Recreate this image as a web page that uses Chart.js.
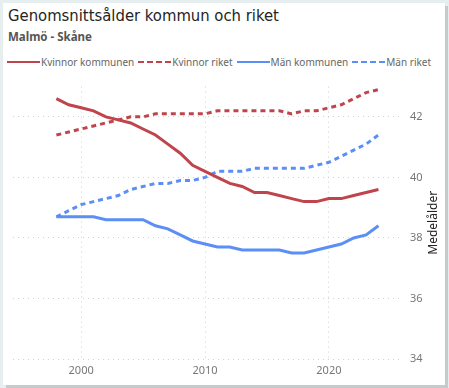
<!DOCTYPE html>
<html>
<head>
<meta charset="utf-8">
<script src="https://cdn.jsdelivr.net/npm/chart.js@4/dist/chart.umd.min.js"></script>
<style>
  html, body { margin: 0; padding: 0; }
  body { width: 449px; height: 388px; background: #e7eef0; position: relative; overflow: hidden; font-family: 'Noto Sans', 'Open Sans', sans-serif; }
  .card { position: absolute; left: 3px; top: 3px; width: 442px; height: 382px; background: #fff; box-shadow: 3px 3px 0 #c5cacb; }
  .title { position: absolute; left: 5px; top: 3px; font-family: 'DejaVu Sans Condensed', 'Noto Sans', sans-serif; font-size: 16.5px; color: #252423; white-space: nowrap; }
  .sub { position: absolute; left: 5px; top: 26px; font-size: 11.5px; font-weight: bold; color: #555; }
  .legend { position: absolute; left: 4px; top: 52px; display: flex; align-items: center; font-size: 10px; color: #666; white-space: nowrap; }
  .legend .item { display: flex; align-items: center; margin-right: 4px; }
  .legend .line { width: 33px; height: 0; border-top-width: 2px; margin-right: 1px; }
  .chartbox { position: absolute; left: 0; top: 69px; width: 442px; height: 313px; }
</style>
</head>
<body>
<div class="card">
  <div class="title">Genomsnittsålder kommun och riket</div>
  <div class="sub">Malmö - Skåne</div>
  <div class="legend" id="legend"></div>
  <div class="chartbox"><canvas id="chart"></canvas></div>
</div>
<script>
const years = [1998, 1999, 2000, 2001, 2002, 2003, 2004, 2005, 2006, 2007, 2008, 2009, 2010,
  2011, 2012, 2013, 2014, 2015, 2016, 2017, 2018, 2019, 2020, 2021, 2022, 2023, 2024];

const kvinnorKommunen = [42.6, 42.4, 42.3, 42.2, 42.0, 41.9, 41.8, 41.6, 41.4, 41.1, 40.8, 40.4, 40.2,
  40.0, 39.8, 39.7, 39.5, 39.5, 39.4, 39.3, 39.2, 39.2, 39.3, 39.3, 39.4, 39.5, 39.6];
const kvinnorRiket = [41.4, 41.5, 41.6, 41.7, 41.8, 41.9, 42.0, 42.0, 42.1, 42.1, 42.1, 42.1, 42.1,
  42.2, 42.2, 42.2, 42.2, 42.2, 42.2, 42.1, 42.2, 42.2, 42.3, 42.4, 42.6, 42.8, 42.9];
const manKommunen = [38.7, 38.7, 38.7, 38.7, 38.6, 38.6, 38.6, 38.6, 38.4, 38.3, 38.1, 37.9, 37.8,
  37.7, 37.7, 37.6, 37.6, 37.6, 37.6, 37.5, 37.5, 37.6, 37.7, 37.8, 38.0, 38.1, 38.4];
const manRiket = [38.7, 38.9, 39.1, 39.2, 39.3, 39.4, 39.6, 39.7, 39.8, 39.8, 39.9, 39.9, 40.0,
  40.2, 40.2, 40.2, 40.3, 40.3, 40.3, 40.3, 40.3, 40.4, 40.5, 40.7, 40.9, 41.1, 41.4];

const seriesNames = ['Kvinnor kommunen', 'Kvinnor riket', 'Män kommunen', 'Män riket'];
const xTicks = [2000, 2010, 2020];
const yTicks = [34, 36, 38, 40, 42];
const yTitle = 'Medelålder';

const red = '#bf444c';
const blue = '#5b8ff7';

const toPoints = (vals) => vals.map((v, i) => ({ x: years[i], y: v }));

const datasets = [
  { label: seriesNames[0], data: toPoints(kvinnorKommunen), borderColor: red, borderDash: [] },
  { label: seriesNames[1], data: toPoints(kvinnorRiket), borderColor: red, borderDash: [5, 4] },
  { label: seriesNames[2], data: toPoints(manKommunen), borderColor: blue, borderDash: [] },
  { label: seriesNames[3], data: toPoints(manRiket), borderColor: blue, borderDash: [5, 4] }
].map(d => Object.assign(d, { borderWidth: 3, pointRadius: 0, tension: 0, fill: false }));

// HTML legend built from the datasets
const legendEl = document.getElementById('legend');
datasets.forEach(d => {
  const item = document.createElement('div');
  item.className = 'item';
  const line = document.createElement('span');
  line.className = 'line';
  line.style.borderTopStyle = d.borderDash.length ? 'dashed' : 'solid';
  line.style.borderTopColor = d.borderColor;
  const txt = document.createElement('span');
  txt.textContent = d.label;
  item.appendChild(line);
  item.appendChild(txt);
  legendEl.appendChild(item);
});

// y axis title drawn bottom-to-top on the right
const rightTitle = {
  id: 'rightTitle',
  afterDraw(chart) {
    const ctx = chart.ctx;
    const area = chart.chartArea;
    ctx.save();
    ctx.translate(431, (area.top + area.bottom) / 2);
    ctx.rotate(-Math.PI / 2);
    ctx.font = '12px "Noto Sans", sans-serif';
    ctx.fillStyle = '#252423';
    ctx.textAlign = 'center';
    ctx.textBaseline = 'middle';
    ctx.fillText(yTitle, 0, 0);
    ctx.restore();
  }
};

new Chart(document.getElementById('chart').getContext('2d'), {
  type: 'line',
  data: { datasets: datasets },
  options: {
    responsive: true,
    maintainAspectRatio: false,
    animation: false,
    layout: { padding: { left: 10, top: 11, right: 0, bottom: 0 } },
    plugins: { legend: { display: false }, tooltip: { enabled: false } },
    scales: {
      x: {
        type: 'linear',
        min: 1994.5,
        max: 2025.9,
        afterBuildTicks: (scale) => { scale.ticks = xTicks.map(v => ({ value: v })); },
        afterFit: (scale) => { scale.height = 26; },
        grid: { color: '#d0d0d0', lineWidth: 1, drawTicks: false },
        border: { display: false, dash: [1, 4] },
        ticks: { color: '#777', font: { size: 11, family: 'Noto Sans' }, padding: 5, maxRotation: 0, callback: v => String(v) }
      },
      y: {
        position: 'right',
        min: 34,
        max: 43,
        afterBuildTicks: (scale) => { scale.ticks = yTicks.map(v => ({ value: v })); },
        afterFit: (scale) => { scale.width = 43; },
        grid: { color: '#d0d0d0', lineWidth: 1, drawTicks: false },
        border: { display: false, dash: [1, 4] },
        ticks: { color: '#777', font: { size: 11, family: 'Noto Sans' }, padding: 8, align: 'center' }
      }
    }
  },
  plugins: [rightTitle]
});
</script>
</body>
</html>
